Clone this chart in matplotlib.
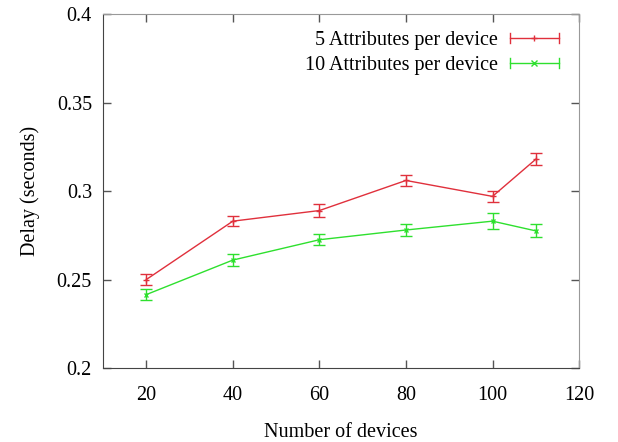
import matplotlib
matplotlib.use("Agg")
import matplotlib.pyplot as plt
from matplotlib.legend_handler import HandlerBase
from matplotlib.lines import Line2D

# data
devices = [20, 40, 60, 80, 100, 110]
delay_5 = [0.250, 0.283, 0.289, 0.306, 0.297, 0.318]
err_5 = [0.0030, 0.0030, 0.0035, 0.0032, 0.0031, 0.0033]
delay_10 = [0.2415, 0.261, 0.2725, 0.278, 0.283, 0.2775]
err_10 = [0.0031, 0.0035, 0.0032, 0.0035, 0.0044, 0.0037]

labels = ["5 Attributes per device", "10 Attributes per device"]
xticks = [20, 40, 60, 80, 100, 120]
yticks = [0.2, 0.25, 0.3, 0.35, 0.4]
ytick_labels = ["0.2", "0.25", "0.3", "0.35", "0.4"]

plt.rcParams["font.family"] = ["Liberation Serif", "DejaVu Serif"]
plt.rcParams["font.size"] = 14.5


# gnuplot-like key sample: horizontal line with end caps and a point in the middle
class GnuKey(HandlerBase):
    def __init__(self, color, marker):
        super().__init__()
        self.color = color
        self.marker = marker

    def create_artists(self, legend, orig_handle, xdescent, ydescent,
                       width, height, fontsize, trans):
        y = height / 2 - ydescent
        x0, x1 = -xdescent, width - xdescent
        cap = 0.35 * height
        arts = [
            Line2D([x0, x1], [y, y], color=self.color, lw=1.0),
            Line2D([x0, x0], [y - cap, y + cap], color=self.color, lw=1.0),
            Line2D([x1, x1], [y - cap, y + cap], color=self.color, lw=1.0),
            Line2D([(x0 + x1) / 2], [y], color=self.color, marker=self.marker,
                   markersize=4, lw=0),
        ]
        for a in arts:
            a.set_transform(trans)
        return arts


fig = plt.figure(figsize=(6.18, 4.42), dpi=100)
ax = fig.add_axes([0.1667, 0.1674, 0.7703, 0.8006])

red = "#e0303c"
green = "#2ee02e"
h5 = ax.errorbar(devices, delay_5, yerr=err_5, color=red, lw=1.0,
                 elinewidth=1.0, capsize=4.5, capthick=1.0,
                 marker="+", markersize=4)
h10 = ax.errorbar(devices, delay_10, yerr=err_10, color=green, lw=1.0,
                  elinewidth=1.0, capsize=4.5, capthick=1.0,
                  marker="x", markersize=3.5)

ax.set_xlim(10, 120)
ax.set_ylim(0.2, 0.4)
ax.set_xticks(xticks)
ax.set_yticks(yticks)
ax.set_yticklabels(ytick_labels)
ax.tick_params(direction="in", top=True, right=True, length=6,
               width=1, color="#555555", pad=8)
ax.tick_params(axis="x", pad=13)

for side in ["top", "right"]:
    ax.spines[side].set_color("#999999")
for side in ["left", "bottom"]:
    ax.spines[side].set_color("#444444")

ax.set_xlabel("Number of devices", labelpad=13)
ax.set_ylabel("Delay (seconds)", labelpad=12)

ax.legend([h5, h10], labels, loc="upper right", frameon=False,
          markerfirst=False, handlelength=2.45, handletextpad=0.6,
          labelspacing=0.3, borderaxespad=0.0,
          bbox_to_anchor=(0.975, 0.975),
          handler_map={h5: GnuKey(red, "+"), h10: GnuKey(green, "x")})

fig.savefig("out.png", dpi=100)
